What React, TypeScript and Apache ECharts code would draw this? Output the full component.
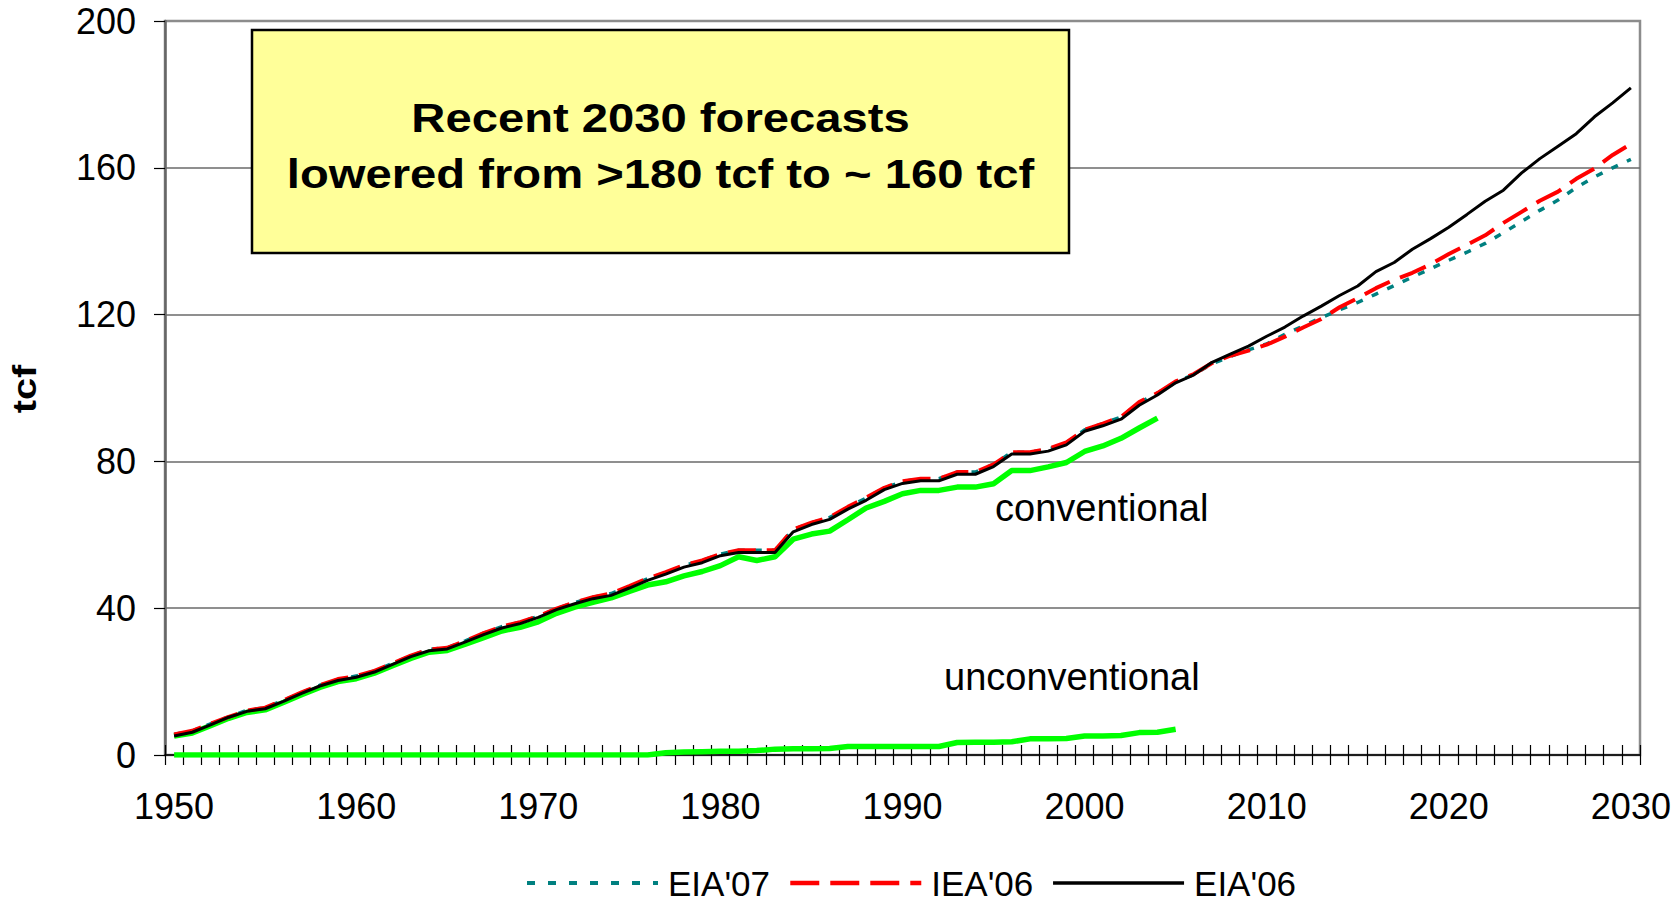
import React, { useEffect, useRef } from "react";
import * as echarts from "echarts";

const FONT = '"Liberation Sans", Arial, sans-serif';

// Categories: every year 1950..2030
const years: string[] = [];
for (let y = 1950; y <= 2030; y++) years.push(String(y));

const yTicks = { min: 0, max: 200, interval: 40 };

// EIA'07 (teal dotted), 1950-2030
const eia07 = [
  5.6, 6.6, 8.5, 10.4, 12.2, 12.9, 14.9, 17.0, 19.0, 20.6,
  21.5, 22.9, 25.0, 27.0, 28.8, 29.2, 31.1, 33.2, 35.0, 36.2,
  37.8, 39.9, 41.5, 43.0, 44.0, 45.9, 48.0, 49.7, 51.6, 53.0,
  54.7, 55.8, 55.8, 55.8, 61.4, 63.3, 64.7, 67.5, 70.0, 72.8,
  74.5, 75.3, 75.3, 77.1, 77.1, 79.2, 82.5, 82.5, 83.3, 85.1,
  88.6, 90.3, 92.1, 96.0, 98.6, 101.6, 103.7, 106.6, 108.6, 110.4,
  112.0, 114.6, 116.9, 119.2, 121.3, 123.3, 125.6, 127.9, 130.2, 132.5,
  134.8, 137.0, 139.4, 142.3, 145.4, 148.4, 151.2, 154.6, 157.5, 160.0,
  162.3,
];

// IEA'06 (red dashed), 1950-2030
const iea06 = [
  5.6, 6.6, 8.5, 10.4, 12.1, 12.9, 14.9, 17.1, 19.0, 20.7,
  21.5, 22.9, 25.0, 27.1, 28.7, 29.2, 31.1, 33.2, 35.0, 36.2,
  37.8, 39.9, 41.6, 43.0, 44.0, 46.0, 48.1, 49.8, 51.7, 53.0,
  54.8, 55.8, 55.8, 55.8, 61.5, 63.3, 64.8, 67.6, 70.1, 72.8,
  74.6, 75.3, 75.3, 77.1, 77.1, 79.2, 82.5, 82.5, 83.4, 85.2,
  88.6, 90.3, 92.1, 96.2, 98.6, 101.8, 103.8, 106.8, 108.8, 110.2,
  111.8, 114.0, 116.5, 118.8, 122.0, 124.5, 127.2, 129.5, 131.4, 133.7,
  136.5, 139.0, 141.6, 145.0, 148.0, 151.0, 153.5, 157.0, 159.8, 163.5,
  166.5,
];

// EIA'06 (black solid), 1950-2030
const eia06 = [
  5.2, 6.2, 8.2, 10.3, 11.9, 12.6, 14.6, 16.8, 18.8, 20.3,
  21.2, 22.6, 24.7, 26.8, 28.4, 28.9, 30.8, 32.8, 34.6, 35.8,
  37.5, 39.6, 41.2, 42.6, 43.5, 45.5, 47.6, 49.3, 51.2, 52.4,
  54.3, 55.2, 55.2, 55.2, 60.8, 62.8, 64.2, 67.0, 69.4, 72.3,
  74.0, 74.7, 74.7, 76.5, 76.5, 78.6, 82.0, 82.0, 82.8, 84.5,
  88.2, 89.7, 91.5, 95.3, 98.1, 101.4, 103.6, 107.0, 109.2, 111.4,
  114.1, 116.6, 119.6, 122.3, 125.2, 127.8, 131.7, 134.2, 137.8, 140.7,
  143.8, 147.3, 150.9, 153.9, 158.6, 162.5, 165.9, 169.3, 173.9, 177.7,
  181.8,
];

// conventional (green), 1950-2004
const conventional = [
  5.2, 6.0, 8.0, 10.0, 11.6, 12.3, 14.3, 16.4, 18.4, 20.0,
  20.8, 22.3, 24.3, 26.3, 28.0, 28.5, 30.2, 32.0, 33.8, 34.8,
  36.3, 38.6, 40.3, 41.6, 42.8, 44.6, 46.3, 47.2, 48.8, 50.0,
  51.6, 54.0, 53.0, 54.0, 58.8, 60.2, 61.0, 64.1, 67.3, 69.1,
  71.2, 72.1, 72.1, 73.0, 73.0, 73.9, 77.5, 77.5, 78.5, 79.7,
  82.7, 84.2, 86.3, 89.1, 91.8,
];

// unconventional (green), 1950-2005
const unconventional = [
  0, 0, 0, 0, 0, 0, 0, 0, 0, 0,
  0, 0, 0, 0, 0, 0, 0, 0, 0, 0,
  0, 0, 0, 0, 0, 0, 0, 0.6, 0.8, 0.9,
  1.0, 1.0, 1.2, 1.6, 1.7, 1.7, 1.8, 2.3, 2.3, 2.3,
  2.3, 2.3, 2.3, 3.4, 3.5, 3.5, 3.6, 4.4, 4.4, 4.5,
  5.2, 5.2, 5.3, 6.1, 6.2, 7.0,
];

const legendNames = ["EIA'07", "IEA'06", "EIA'06"];
const boxLines = ["Recent 2030 forecasts", "lowered from >180 tcf to ~ 160 tcf"];

export default function App() {
  const ref = useRef<HTMLDivElement>(null);

  useEffect(() => {
    if (!ref.current) return;
    const chart = echarts.init(ref.current, undefined, { renderer: "svg" });

    const tickStyle = { color: "#000", width: 1.2 };

    const option: any = {
      animation: false,
      backgroundColor: "#fff",
      textStyle: { fontFamily: FONT },
      grid: {
        left: 165,
        right: 34,
        top: 21,
        bottom: 147,
        show: true,
        borderColor: "#8c8c8c",
        borderWidth: 2.5,
        backgroundColor: "transparent",
      },
      legend: {
        data: [
          { name: legendNames[0], lineStyle: { width: 4, type: [8, 13] } },
          { name: legendNames[1], lineStyle: { width: 4.5, type: [29, 11] } },
          { name: legendNames[2], lineStyle: { width: 3.5 } },
        ],
        left: 525,
        top: 863,
        padding: 0,
        itemWidth: 131,
        itemHeight: 14,
        itemGap: 18,
        selectedMode: false,
        itemStyle: { color: "rgba(0,0,0,0)", opacity: 0, borderWidth: 0 },
        textStyle: {
          fontFamily: FONT,
          fontSize: 35,
          color: "#000",
          lineHeight: 40,
          padding: [0, 0, 0, 5],
        },
      },
      xAxis: [
        {
          type: "category",
          data: years,
          boundaryGap: true,
          position: "bottom",
          axisLine: { show: true, lineStyle: { color: "#000", width: 1.5 } },
          axisTick: { show: true, interval: 0, length: 10, lineStyle: tickStyle },
          axisLabel: {
            interval: 9,
            fontSize: 36,
            color: "#000",
            fontFamily: FONT,
            margin: 33,
          },
          splitLine: { show: false },
        },
        {
          type: "category",
          data: years,
          boundaryGap: true,
          position: "bottom",
          axisLine: { show: false },
          axisTick: { show: true, inside: true, interval: 0, length: 10, lineStyle: tickStyle },
          axisLabel: { show: false },
          splitLine: { show: false },
        },
      ],
      yAxis: {
        type: "value",
        min: yTicks.min,
        max: yTicks.max,
        interval: yTicks.interval,
        axisLine: { show: true, lineStyle: { color: "#666", width: 2.5 } },
        axisTick: { show: true, length: 11, lineStyle: tickStyle },
        axisLabel: { fontSize: 36, color: "#000", fontFamily: FONT, margin: 29 },
        splitLine: {
          show: true,
          showMaxLine: false,
          lineStyle: { color: "#6a6a6a", width: 1.5 },
        },
      },
      series: [
        {
          name: "conventional",
          type: "line",
          data: conventional,
          symbol: "none",
          lineStyle: { color: "#00ff00", width: 5.5 },
          z: 2,
        },
        {
          name: "unconventional",
          type: "line",
          data: unconventional,
          symbol: "none",
          lineStyle: { color: "#00ff00", width: 5.5 },
          z: 2,
        },
        {
          name: legendNames[0],
          type: "line",
          data: eia07,
          symbol: "none",
          itemStyle: { color: "#008080" },
          lineStyle: { color: "#008080", width: 3.5, type: [7, 10] },
          z: 3,
        },
        {
          name: legendNames[1],
          type: "line",
          data: iea06,
          symbol: "none",
          itemStyle: { color: "#ff0000" },
          lineStyle: { color: "#ff0000", width: 4, type: [28, 11] },
          z: 4,
        },
        {
          name: legendNames[2],
          type: "line",
          data: eia06,
          symbol: "none",
          itemStyle: { color: "#000" },
          lineStyle: { color: "#000", width: 3 },
          z: 5,
        },
      ],
      graphic: [
        {
          type: "rect",
          z: 50,
          shape: { x: 252, y: 30, width: 817, height: 223 },
          style: { fill: "#ffff99", stroke: "#000", lineWidth: 2.5 },
        },
        {
          type: "text",
          z: 51,
          x: 660.5,
          y: 117.5,
          scaleX: 1.18,
          style: {
            text: boxLines[0],
            font: `bold 40px ${FONT}`,
            fill: "#000",
            textAlign: "center",
            textVerticalAlign: "middle",
          },
        },
        {
          type: "text",
          z: 51,
          x: 660.5,
          y: 174,
          scaleX: 1.18,
          style: {
            text: boxLines[1],
            font: `bold 40px ${FONT}`,
            fill: "#000",
            textAlign: "center",
            textVerticalAlign: "middle",
          },
        },
        {
          type: "text",
          z: 51,
          x: 25,
          y: 389,
          rotation: Math.PI / 2,
          scaleX: 1.17,
          style: {
            text: "tcf",
            font: `bold 34px ${FONT}`,
            fill: "#000",
            textAlign: "center",
            textVerticalAlign: "middle",
          },
        },
        {
          type: "text",
          z: 51,
          x: 995,
          y: 508,
          style: {
            text: "conventional",
            font: `38px ${FONT}`,
            fill: "#000",
            textAlign: "left",
            textVerticalAlign: "middle",
          },
        },
        {
          type: "text",
          z: 51,
          x: 944,
          y: 677,
          style: {
            text: "unconventional",
            font: `38px ${FONT}`,
            fill: "#000",
            textAlign: "left",
            textVerticalAlign: "middle",
          },
        },
      ],
    };

    chart.setOption(option);
    return () => chart.dispose();
  }, []);

  return (
    <div
      ref={ref}
      style={{ position: "absolute", left: 0, top: 0, width: 1674, height: 902 }}
    />
  );
}
